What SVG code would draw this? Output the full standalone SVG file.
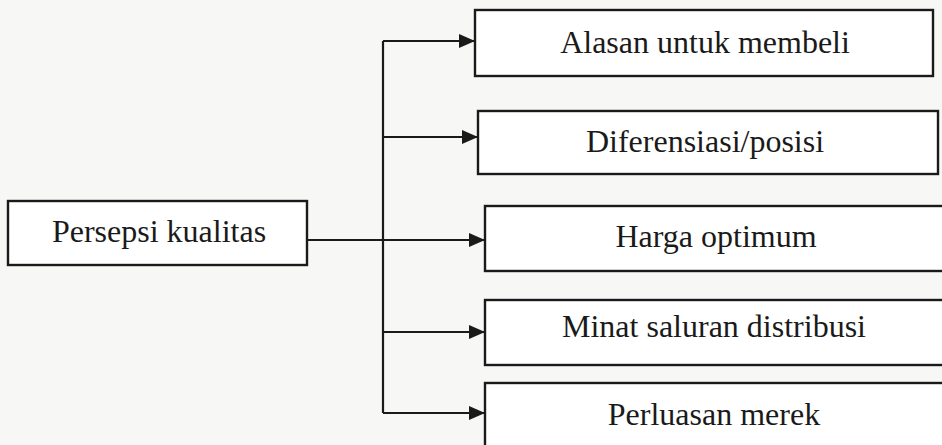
<svg xmlns="http://www.w3.org/2000/svg" width="942" height="445" viewBox="0 0 942 445">
<style>
.box{fill:#fff;stroke:#1a1a1a;stroke-width:2.4}
.t{font-family:"Liberation Serif","Times New Roman",serif;font-size:32px;fill:#1a1a1a;text-anchor:middle}
.ln{stroke:#1a1a1a;stroke-width:2.2;fill:none}
</style>
<defs>
<marker id="ah" viewBox="0 0 16 14" refX="16" refY="7" markerWidth="16" markerHeight="14" markerUnits="userSpaceOnUse" orient="auto">
<path d="M0,0 L16,7 L0,14 Z" fill="#1a1a1a"/>
</marker>
</defs>
<rect width="942" height="445" fill="#f7f7f5"/>
<g id="connectors">
<line class="ln" x1="307" y1="240" x2="485" y2="240" marker-end="url(#ah)"/>
<line class="ln" x1="383" y1="41" x2="383" y2="413"/>
<line class="ln" x1="383" y1="41" x2="475" y2="41" marker-end="url(#ah)"/>
<line class="ln" x1="383" y1="137" x2="478" y2="137" marker-end="url(#ah)"/>
<line class="ln" x1="383" y1="332" x2="485" y2="332" marker-end="url(#ah)"/>
<line class="ln" x1="383" y1="413" x2="485" y2="413" marker-end="url(#ah)"/>
</g>
<g id="persepsi">
<rect class="box" x="8" y="201" width="299" height="64"/>
<text class="t" x="159" y="242">Persepsi kualitas</text>
</g>
<g id="alasan">
<rect class="box" x="475" y="10" width="458" height="66"/>
<text class="t" x="705" y="53">Alasan untuk membeli</text>
</g>
<g id="diferensiasi">
<rect class="box" x="478" y="111" width="460" height="63"/>
<text class="t" x="705" y="152">Diferensiasi/posisi</text>
</g>
<g id="harga">
<rect class="box" x="485" y="206" width="470" height="65"/>
<text class="t" x="716" y="247">Harga optimum</text>
</g>
<g id="minat">
<rect class="box" x="485" y="300" width="470" height="65"/>
<text class="t" x="714" y="337">Minat saluran distribusi</text>
</g>
<g id="perluasan">
<rect class="box" x="485" y="383" width="470" height="80"/>
<text class="t" x="714" y="425">Perluasan merek</text>
</g>
</svg>
